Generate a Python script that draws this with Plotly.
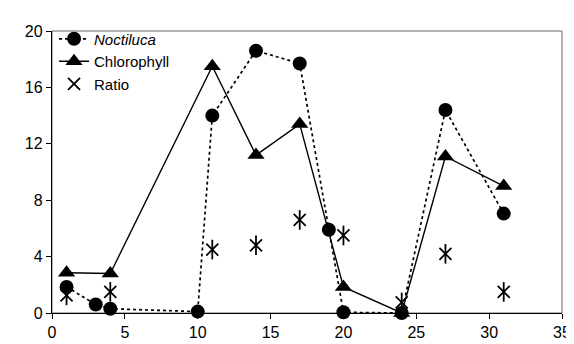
import plotly.graph_objects as go

noct_x = [1, 3, 4, 10, 11, 14, 17, 19, 20, 24, 27, 31]
noct_y = [1.85, 0.6, 0.3, 0.1, 14.0, 18.6, 17.7, 5.9, 0.05, 0.0, 14.4, 7.05]

chl_x = [1, 4, 11, 14, 17, 20, 24, 27, 31]
chl_y = [2.85, 2.8, 17.5, 11.2, 13.4, 1.85, 0.0, 11.1, 9.0]

ratio_x = [1, 4, 11, 14, 17, 20, 24, 27, 31]
ratio_y = [1.25, 1.5, 4.5, 4.8, 6.6, 5.5, 0.75, 4.2, 1.5]

x_ticks = [0, 5, 10, 15, 20, 25, 30, 35]
y_ticks = [0, 4, 8, 12, 16, 20]

FONT = "Liberation Sans, Arial, sans-serif"

fig = go.Figure()
fig.add_trace(go.Scatter(
    x=noct_x, y=noct_y, mode="lines+markers", name="<i>Noctiluca</i>",
    line=dict(color="black", width=1.7, dash="dot"),
    marker=dict(symbol="circle", size=14, color="black"),
    cliponaxis=False))
fig.add_trace(go.Scatter(
    x=chl_x, y=chl_y, mode="lines+markers", name="Chlorophyll",
    line=dict(color="black", width=1.4),
    marker=dict(symbol="triangle-up", size=15, color="black"),
    cliponaxis=False))
fig.add_trace(go.Scatter(
    x=ratio_x, y=ratio_y, mode="markers", name="Ratio", legendgroup="ratio",
    marker=dict(symbol="x-thin-open", size=12, color="black",
                line=dict(width=1.8, color="black")),
    cliponaxis=False))
fig.add_trace(go.Scatter(
    x=ratio_x, y=ratio_y, mode="markers", name="Ratio", legendgroup="ratio",
    showlegend=False,
    marker=dict(symbol="line-ns-open", size=14, color="black",
                line=dict(width=1.8, color="black")),
    cliponaxis=False))

fig.update_layout(
    width=574, height=344,
    margin=dict(l=44, r=11, t=23, b=33),
    paper_bgcolor="white", plot_bgcolor="white",
    font=dict(family=FONT, size=15, color="black"),
    showlegend=True,
    legend=dict(x=0.004, y=1.03, xanchor="left", yanchor="top",
                bgcolor="rgba(0,0,0,0)", font=dict(size=15, family=FONT),
                itemsizing="trace", tracegroupgap=0),
    xaxis=dict(range=[0, 35], tickvals=x_ticks, showgrid=False, zeroline=False,
               showline=True, linecolor="black", linewidth=1.3,
               ticks="outside", ticklen=5, tickcolor="black",
               tickfont=dict(size=16, family=FONT)),
    yaxis=dict(range=[0, 20], tickvals=y_ticks, showgrid=False, zeroline=False,
               showline=True, linecolor="black", linewidth=1.3,
               ticks="outside", ticklen=5, tickcolor="black",
               tickfont=dict(size=16, family=FONT)),
    shapes=[dict(type="rect", xref="paper", yref="paper", x0=0, x1=1, y0=0, y1=1,
                 line=dict(color="#666", width=1), layer="below")],
)

fig.write_html("out.html")
